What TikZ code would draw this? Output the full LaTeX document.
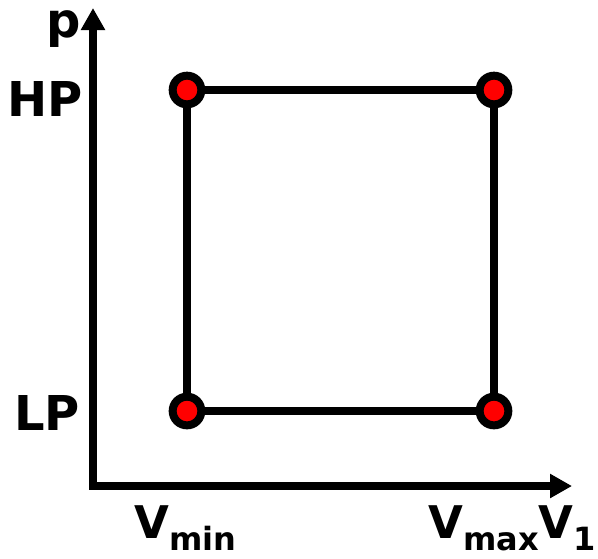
\documentclass[tikz,border=0pt]{standalone}
\usepackage{fontspec}
\setmainfont{DejaVu Sans}
\usetikzlibrary{arrows.meta}
\newcommand\lblsub[1]{\raisebox{-9pt}{\fontsize{24pt}{26pt}\selectfont #1}}
\tikzset{
  dotnode/.style={circle, draw=black, fill=red, line width=6pt, minimum size=21.5pt, inner sep=0pt},
  edge/.style={line width=5.6pt},
  axis/.style={line width=5.6pt, {Triangle[length=16.5pt,width=17.25pt]}-{Triangle[length=16.5pt,width=17.25pt]}},
  lbl/.style={anchor=base west, inner sep=0pt, font=\bfseries\fontsize{33.75pt}{36pt}\selectfont},
  ylbl/.style={anchor=base west, inner sep=0pt, font=\bfseries\fontsize{36pt}{38pt}\selectfont}
}
\begin{document}
\begin{tikzpicture}[x=0.75pt,y=-0.75pt]
\useasboundingbox (0,0) rectangle (598,558);
\coordinate (ytip) at (93,8);
\coordinate (orig) at (93,486);
\coordinate (xtip) at (572,486);
\draw[axis] (ytip) -- (orig) -- (xtip);
\node[dotnode] (a) at (187,90) {};
\node[dotnode] (b) at (494,90) {};
\node[dotnode] (c) at (494,411) {};
\node[dotnode] (d) at (187,411) {};
\draw[edge] (a) -- (b);
\draw[edge] (b) -- (c);
\draw[edge] (c) -- (d);
\draw[edge] (d) -- (a);
\node[ylbl] (p) at (46,37) {p};
\node[ylbl] (hp) at (7,116) {HP};
\node[ylbl] (lp) at (14,430) {LP};
\node[lbl] (vmin) at (134,538) {V\lblsub{min}};
\node[lbl] (vmax) at (428,538) {V\lblsub{max}V\lblsub{1}};
\end{tikzpicture}
\end{document}
